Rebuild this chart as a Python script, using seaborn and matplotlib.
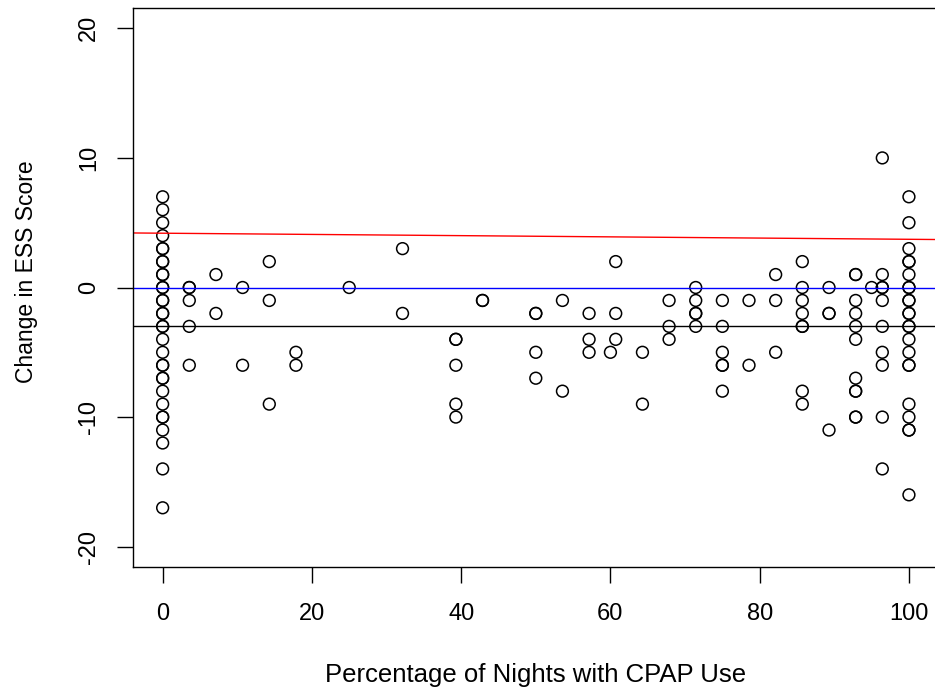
import numpy as np
import pandas as pd
import seaborn as sns
import matplotlib
matplotlib.use("Agg")
import matplotlib.pyplot as plt

# percentage of nights with CPAP use, and change in ESS score (one entry per patient)
pct_nights = (
    [0.0] * 32
    + [3.57] * 5
    + [7.14] * 2
    + [10.71] * 2
    + [14.29] * 3
    + [17.86] * 2
    + [25.0]
    + [32.14] * 2
    + [39.29] * 5
    + [42.86] * 2
    + [50.0] * 4
    + [53.57] * 2
    + [57.14] * 3
    + [60.0]
    + [60.71] * 3
    + [64.29] * 2
    + [67.86] * 3
    + [71.43] * 5
    + [75.0] * 6
    + [78.57] * 2
    + [82.14] * 3
    + [85.71] * 8
    + [89.29] * 4
    + [92.86] * 11
    + [95.0]
    + [96.43] * 10
    + [100.0] * 23
)
ess_change = (
    [7, 6, 5, 4, 3, 3, 2, 2, 1, 1, 0, 0, -1, -1, -2, -2, -3, -3, -4, -5, -6, -6,
     -7, -7, -8, -9, -10, -10, -11, -12, -14, -17]
    + [0, 0, -1, -3, -6]
    + [1, -2]
    + [0, -6]
    + [2, -1, -9]
    + [-5, -6]
    + [0]
    + [3, -2]
    + [-4, -4, -6, -9, -10]
    + [-1, -1]
    + [-2, -2, -5, -7]
    + [-1, -8]
    + [-2, -4, -5]
    + [-5]
    + [2, -2, -4]
    + [-5, -9]
    + [-1, -3, -4]
    + [0, -1, -2, -2, -3]
    + [-1, -3, -5, -6, -6, -8]
    + [-1, -6]
    + [1, -1, -5]
    + [2, 0, -1, -2, -3, -3, -8, -9]
    + [0, -2, -2, -11]
    + [1, 1, -1, -2, -3, -4, -7, -8, -8, -10, -10]
    + [0]
    + [10, 1, 0, 0, -1, -3, -5, -6, -10, -14]
    + [7, 5, 3, 2, 2, 1, 0, 0, -1, -1, -2, -2, -3, -3, -4, -5, -6, -6, -9, -10,
       -11, -11, -16]
)

# reference lines
zero_line = 0
mean_line = -3
fit_intercept = 4.19
fit_slope = -0.0047

df = pd.DataFrame({"pct": pct_nights, "ess": ess_change})

sns.set_style("ticks")
plt.rcParams["font.family"] = ["Liberation Sans", "DejaVu Sans"]
plt.rcParams["text.color"] = "black"
plt.rcParams["axes.labelcolor"] = "black"
plt.rcParams["xtick.color"] = "black"
plt.rcParams["ytick.color"] = "black"

fig = plt.figure(figsize=(9.35, 6.94), dpi=100)
ax = fig.add_axes([132.8 / 935, 1 - 567.4 / 694, 806 / 935, 559.8 / 694])

sns.scatterplot(data=df, x="pct", y="ess", ax=ax, marker="o", s=72,
                facecolors="none", edgecolor="black", linewidth=1.1)

ax.axhline(zero_line, color="blue", lw=1.0)
ax.axhline(mean_line, color="black", lw=1.0)
ax.axline((0, fit_intercept), slope=fit_slope, color="red", lw=1.0)

ax.set_xlim(-4, 104)
ax.set_ylim(-21.6, 21.6)
ax.set_xticks([0, 20, 40, 60, 80, 100])
ax.set_yticks([-20, -10, 0, 10, 20])
ax.set_yticklabels(["-20", "-10", "0", "10", "20"], rotation=90, va="center")

ax.tick_params(axis="both", direction="out", length=11.5, width=1.0,
               labelsize=17, color="black", labelcolor="black")
ax.tick_params(axis="x", pad=14)
ax.tick_params(axis="y", pad=12)
for sp in ax.spines.values():
    sp.set_linewidth(1.0)
    sp.set_color("black")

ax.set_xlabel("Percentage of Nights with CPAP Use", fontsize=18.5)
ax.set_ylabel("Change in ESS Score", fontsize=16.5)
ax.xaxis.set_label_coords(0.5, -0.1708)
ax.yaxis.set_label_coords(-0.118, 0.5286)

fig.savefig("out.png", dpi=100)
